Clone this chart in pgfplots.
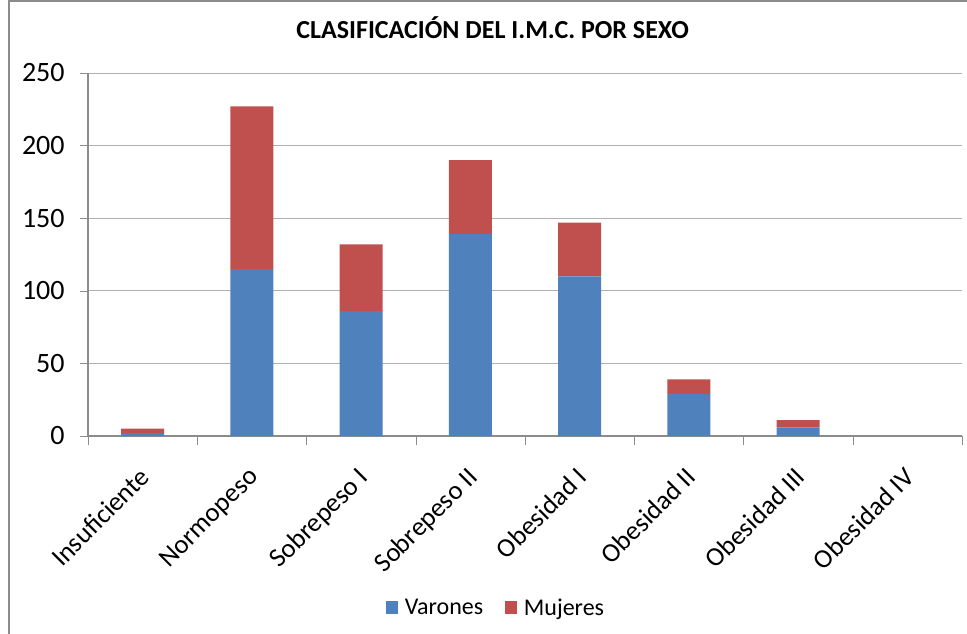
\documentclass[border=0pt]{standalone}
\usepackage{fontspec}
\setmainfont{Carlito}
\usepackage{pgfplots}
\pgfplotsset{compat=1.18}
\definecolor{cblue}{HTML}{4F81BD}
\definecolor{cred}{HTML}{C0504D}
\definecolor{gridc}{HTML}{B0B0B0}
\definecolor{axc}{HTML}{8C8C8C}
\begin{document}
\begin{tikzpicture}
\begin{axis}[
  name=ax,
  scale only axis, width=655.5pt, height=272.25pt,
  ybar stacked, bar width=32.25pt,
  xmin=-0.5, xmax=7.5, ymin=0, ymax=250,
  ytick={0,50,...,250},
  xtick={0,...,7},
  xticklabels={Insuficiente,Normopeso,Sobrepeso I,Sobrepeso II,Obesidad I,Obesidad II,Obesidad III,Obesidad IV},
  minor xtick={-0.5,0.5,...,7.5},
  major x tick style={draw=none},
  minor x tick style={axc},
  y tick style={axc},
  tick align=outside,
  major tick length=6pt, minor tick length=7pt,
  axis x line*=bottom, axis y line*=left,
  axis line style={axc, line width=0.9pt},
  ymajorgrids, grid style={gridc, line width=0.7pt},
  /pgf/number format/assume math mode=true,
  y tick label style={font=\fontsize{21}{24}\selectfont, xshift=-8pt},
  x tick label style={font=\fontsize{20}{23}\selectfont, rotate=45, anchor=north east, xshift=-10.5pt, yshift=-5.7pt},
  title={CLASIFICACIÓN DEL I.M.C. POR SEXO},
  title style={at={(0.463,1.103)}, anchor=center, font=\bfseries\fontsize{19.5}{22}\selectfont},
  legend style={at={(0.467,-0.474)}, anchor=center, draw=none, legend columns=2,
    font=\fontsize{18}{21}\selectfont,
    /tikz/every odd column/.append style={column sep=3pt},
    /tikz/every even column/.append style={column sep=14pt}},
  legend image code/.code={\fill[#1] (0pt,-4.5pt) rectangle (9.5pt,5pt);},
]
\addplot[fill=cblue, draw=none] coordinates {(0,2) (1,115) (2,86) (3,139) (4,110) (5,29) (6,6) (7,0)};
\addplot[fill=cred, draw=none] coordinates {(0,3) (1,112) (2,46) (3,51) (4,37) (5,10) (6,5) (7,0)};
\legend{Varones,Mujeres}
\end{axis}
\draw[axc, line width=0.9pt] ([shift={(-59.25pt,-160pt)}]ax.south west) -- ([shift={(-59.25pt,326.25pt)}]ax.south west) -- ([shift={(680pt,326.25pt)}]ax.south west);
\pgfresetboundingbox
\path[use as bounding box] ([shift={(-66pt,-147.75pt)}]ax.south west) rectangle ([shift={(659.25pt,327pt)}]ax.south west);
\end{tikzpicture}
\end{document}
